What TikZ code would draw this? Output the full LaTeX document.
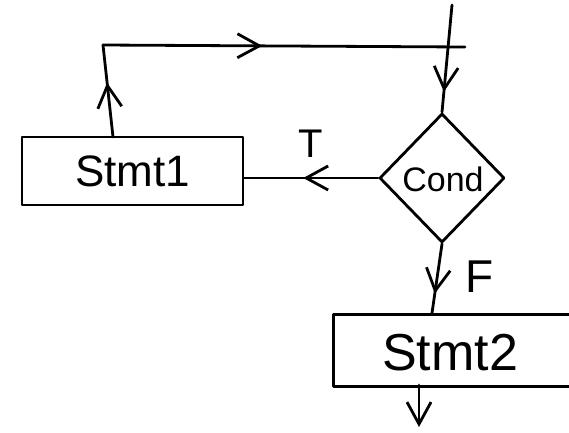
\documentclass[tikz,border=0pt]{standalone}
\usepackage{fontspec}
\setmainfont{Liberation Sans}
\usetikzlibrary{shapes.geometric,arrows.meta,decorations.markings}
\tikzset{
  x=1pt,y=-1pt,
  every path/.style={line width=2.8pt,line cap=round,line join=round},
  marr/.style={postaction={decorate,decoration={markings,
     mark=at position #1 with {\arrow{Straight Barb[length=22pt,width=24pt,line width=2.8pt]}}}}},
  stmtbox/.style={draw,rectangle,inner sep=0pt,line width=2.8pt},
  decision/.style={draw,diamond,inner sep=0pt,line width=2.8pt},
  lbl/.style={inner sep=0pt}
}
\begin{document}
\begin{tikzpicture}
\useasboundingbox (0,0) rectangle (569,432);
% nodes
\node[stmtbox,minimum width=221pt,minimum height=68pt] (s1) at (132.5,171) {\fontsize{44}{48}\selectfont Stmt1};
\node[stmtbox,minimum width=245pt,minimum height=72pt,anchor=north west] (s2) at (332,313) {};
\node[lbl] (s2t) at (450,353) {\fontsize{52}{56}\selectfont Stmt2};
\node[decision,minimum width=125pt,minimum height=129pt] (cond) at (442,178) {};
\node[lbl] (condt) at (443,179) {\fontsize{34}{38}\selectfont Cond};
\node[lbl] (T) at (311,144) {\fontsize{40}{44}\selectfont T};
\node[lbl] (F) at (480,277) {\fontsize{46}{50}\selectfont F};
% coordinates
\coordinate (start) at (452,5);
\coordinate (join) at (103,45);
\coordinate (hend) at (465,47);
\coordinate (s1top) at (113,137);
\coordinate (s2in) at (432,313);
\coordinate (s2out) at (419,385);
\coordinate (endpt) at (419,427);
% connectors
\draw[marr=0.81] (start) -- (cond.north);
\draw[marr=0.59] (s1top) -- (join);
\draw[marr=0.44] (join) -- (hend);
\draw[marr=0.56] (cond.west) -- (cond.west -| s1.east);
\draw[marr=0.72] (cond.south) -- (s2in);
\draw[-{Straight Barb[length=22pt,width=24pt,line width=2.8pt]}] (s2out) -- (endpt);
\end{tikzpicture}
\end{document}
